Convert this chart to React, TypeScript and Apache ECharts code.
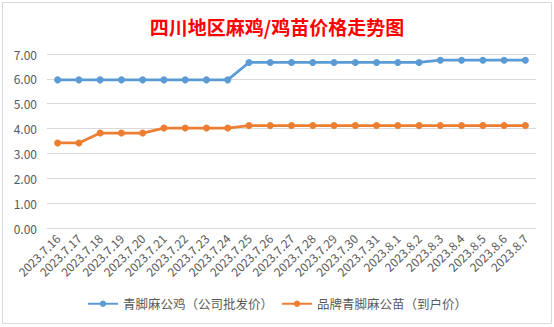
import React, { useEffect, useRef } from "react";
import * as echarts from "echarts";

const categories = [
  "2023.7.16", "2023.7.17", "2023.7.18", "2023.7.19", "2023.7.20", "2023.7.21",
  "2023.7.22", "2023.7.23", "2023.7.24", "2023.7.25", "2023.7.26", "2023.7.27",
  "2023.7.28", "2023.7.29", "2023.7.30", "2023.7.31", "2023.8.1", "2023.8.2",
  "2023.8.3", "2023.8.4", "2023.8.5", "2023.8.6", "2023.8.7",
];
const roosterPrice = [
  5.96, 5.96, 5.96, 5.96, 5.96, 5.96, 5.96, 5.96, 5.96,
  6.66, 6.66, 6.66, 6.66, 6.66, 6.66, 6.66, 6.66, 6.66,
  6.75, 6.75, 6.75, 6.75, 6.75,
];
const chickPrice = [
  3.42, 3.42, 3.82, 3.82, 3.82, 4.02, 4.02, 4.02, 4.02,
  4.12, 4.12, 4.12, 4.12, 4.12, 4.12, 4.12, 4.12, 4.12,
  4.12, 4.12, 4.12, 4.12, 4.12,
];
const seriesNames = ["青脚麻公鸡（公司批发价）", "品牌青脚麻公苗（到户价）"];
const titleText = "四川地区麻鸡/鸡苗价格走势图";

export default function App() {
  const ref = useRef<HTMLDivElement>(null);
  useEffect(() => {
    if (!ref.current) return;
    const chart = echarts.init(ref.current, undefined, { renderer: "svg" });
    const font = "'Noto Sans CJK SC', 'Microsoft YaHei', sans-serif";
    chart.setOption({
      animation: false,
      backgroundColor: "#ffffff",
      textStyle: { fontFamily: font },
      title: {
        text: titleText,
        left: "center",
        top: 12,
        textStyle: { color: "#ff0000", fontSize: 19, fontWeight: "bold", fontFamily: font },
      },
      graphic: [
        {
          type: "rect",
          shape: { x: 2.5, y: 2.5, width: 549, height: 321 },
          style: { fill: "none", stroke: "#d9d9d9", lineWidth: 1 },
          silent: true,
        },
      ],
      legend: {
        bottom: 12,
        left: "center",
        itemWidth: 30,
        itemHeight: 8,
        itemGap: 8,
        textStyle: { color: "#595959", fontSize: 12.5, fontFamily: font },
        data: seriesNames,
      },
      grid: { left: 47, right: 18, top: 54, bottom: 99, containLabel: false },
      xAxis: {
        type: "category",
        data: categories,
        boundaryGap: true,
        axisLine: { show: true, lineStyle: { color: "#d9d9d9" } },
        axisTick: { show: false },
        axisLabel: { rotate: 45, color: "#595959", fontSize: 12, interval: 0, margin: 8 },
      },
      yAxis: {
        type: "value",
        min: 0,
        max: 7,
        interval: 1,
        axisLine: { show: false },
        axisTick: { show: false },
        axisLabel: { color: "#595959", fontSize: 12, margin: 10, formatter: (v: number) => v.toFixed(2) },
        splitLine: { lineStyle: { color: "#d9d9d9" } },
      },
      series: [
        {
          name: seriesNames[0],
          type: "line",
          data: roosterPrice,
          color: "#5b9bd5",
          symbol: "circle",
          symbolSize: 7,
          lineStyle: { width: 2.75 },
        },
        {
          name: seriesNames[1],
          type: "line",
          data: chickPrice,
          color: "#ed7d31",
          symbol: "circle",
          symbolSize: 7,
          lineStyle: { width: 2.75 },
        },
      ],
    });
    return () => chart.dispose();
  }, []);
  return (
    <div
      ref={ref}
      style={{ position: "fixed", left: 0, top: 0, width: 554, height: 327 }}
    />
  );
}
